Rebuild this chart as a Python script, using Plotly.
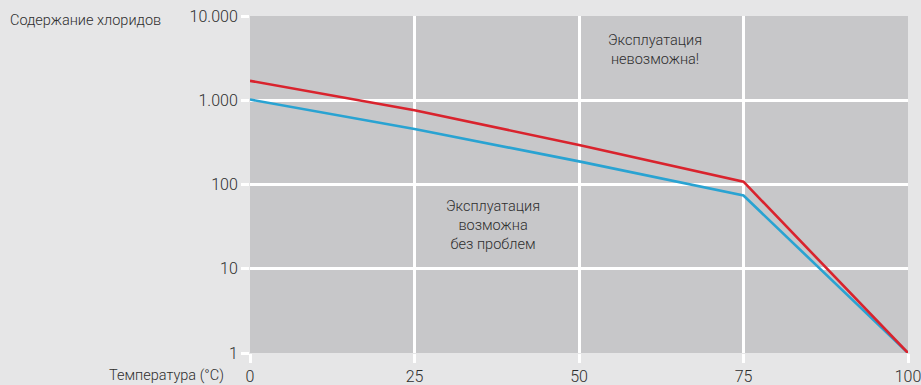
import plotly.graph_objects as go

temperature = [0, 25, 50, 75, 100]
chloride_red = [1700, 760, 295, 108, 1]
chloride_blue = [1020, 455, 188, 74, 1]

x_ticks = [0, 25, 50, 75, 100]
y_tickvals = [1, 10, 100, 1000, 10000]
y_ticktext = ["1", "10", "100", "1.000", "10.000"]

font_family = "Roboto"
text_color = "#2e2e2e"
bg = "#e6e6e7"
w = 300

fig = go.Figure()
fig.add_trace(go.Scatter(x=temperature, y=chloride_blue, mode="lines",
                         line=dict(color="#29a3d2", width=2.6), showlegend=False, hoverinfo="skip"))
fig.add_trace(go.Scatter(x=temperature, y=chloride_red, mode="lines",
                         line=dict(color="#d9232d", width=2.6), showlegend=False, hoverinfo="skip"))

fig.add_annotation(x=61.6, y=3.6, xref="x", yref="y", text="Эксплуатация<br>невозможна!",
                   showarrow=False, font=dict(family=font_family, size=14.5, color=text_color, weight=w))
fig.add_annotation(x=36.9, y=1.51, xref="x", yref="y", text="Эксплуатация<br>возможна<br>без проблем",
                   showarrow=False, font=dict(family=font_family, size=14.5, color=text_color, weight=w))

fig.add_annotation(x=-0.3678, y=0.988, xref="paper", yref="paper", xanchor="left", yanchor="middle",
                   text="Содержание хлоридов", showarrow=False,
                   font=dict(family=font_family, size=14.5, color=text_color, weight=w))
fig.add_annotation(x=-0.036, y=-0.068, xref="paper", yref="paper", xanchor="right", yanchor="middle",
                   text="Температура (°C)", showarrow=False,
                   font=dict(family=font_family, size=14.5, color=text_color, weight=w))

fig.update_layout(
    width=921, height=385,
    margin=dict(l=250, r=13, t=16, b=32),
    paper_bgcolor=bg,
    plot_bgcolor="#c7c7c9",
    font=dict(family=font_family, size=16, color=text_color, weight=w),
)
fig.update_xaxes(range=[0, 100], tickvals=x_ticks, showgrid=True, gridcolor="white", gridwidth=3,
                 zeroline=False, showline=False, ticks="outside", ticklen=9, tickcolor="white",
                 tickwidth=3, automargin=False, ticklabeloverflow="allow",
                 tickfont=dict(size=16, family=font_family, color=text_color, weight=w))
fig.update_yaxes(type="log", range=[0, 4], tickvals=y_tickvals, ticktext=y_ticktext,
                 showgrid=True, gridcolor="white", gridwidth=3, zeroline=False, showline=False,
                 ticks="outside", ticklen=8, tickcolor="white", tickwidth=3, automargin=False,
                 ticklabeloverflow="allow",
                 tickfont=dict(size=16, family=font_family, color=text_color, weight=w))

fig.write_html("out.html", config={"displayModeBar": False},
               post_script="document.body.style.margin='0';document.body.style.background='%s';" % bg)
